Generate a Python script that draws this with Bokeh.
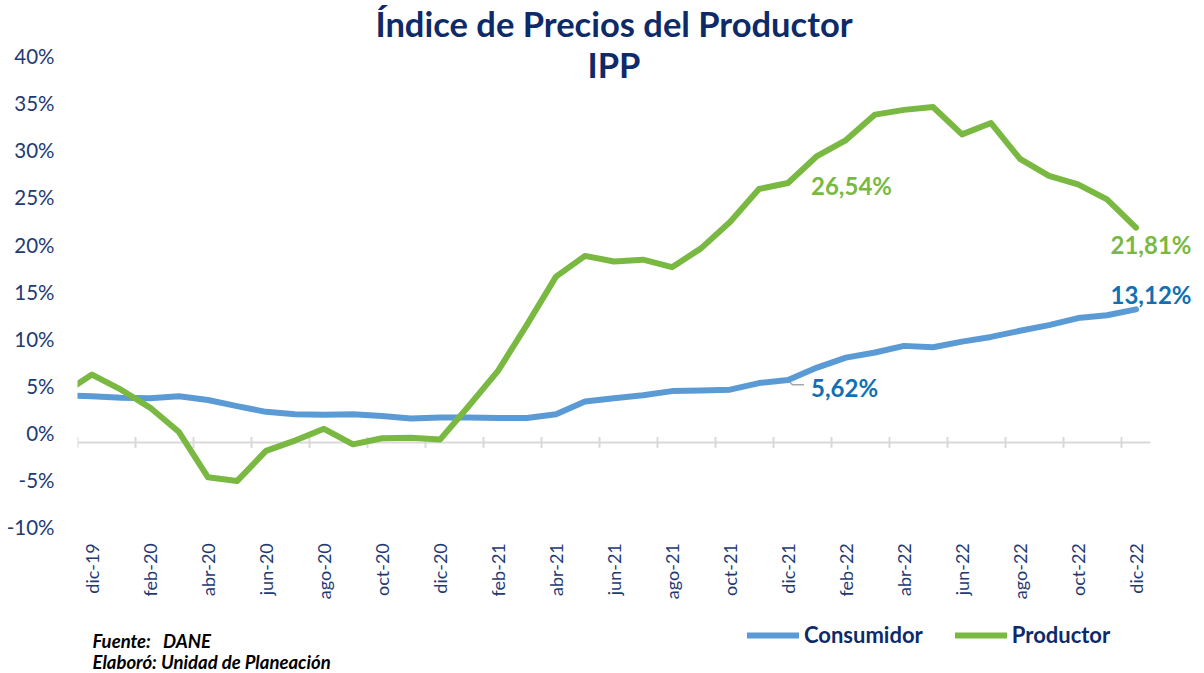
import math
from bokeh.plotting import figure
from bokeh.models import Range1d, FixedTicker, Label, Legend, LegendItem
from bokeh.embed import file_html
from bokeh.resources import INLINE

# ---------------- data ----------------
months = ["nov-19", "dic-19",
          "ene-20", "feb-20", "mar-20", "abr-20", "may-20", "jun-20",
          "jul-20", "ago-20", "sep-20", "oct-20", "nov-20", "dic-20",
          "ene-21", "feb-21", "mar-21", "abr-21", "may-21", "jun-21",
          "jul-21", "ago-21", "sep-21", "oct-21", "nov-21", "dic-21",
          "ene-22", "feb-22", "mar-22", "abr-22", "may-22", "jun-22",
          "jul-22", "ago-22", "sep-22", "oct-22", "nov-22", "dic-22"]

consumidor = [4.0, 3.9,
              3.75, 3.7, 3.9, 3.5, 2.85, 2.25,
              2.0, 1.95, 2.0, 1.8, 1.55, 1.65,
              1.65, 1.6, 1.6, 2.0, 3.35, 3.7,
              4.0, 4.45, 4.5, 4.6, 5.3, 5.62,
              6.95, 8.0, 8.55, 9.25, 9.1, 9.7,
              10.2, 10.85, 11.45, 12.2, 12.5, 13.12]

productor = [4.2, 6.2,
             4.6, 2.7, 0.1, -4.7, -5.1, -1.9,
             -0.8, 0.45, -1.2, -0.55, -0.5, -0.7,
             2.9, 6.6, 11.5, 16.6, 18.8, 18.2,
             18.4, 17.6, 19.6, 22.4, 25.9, 26.54,
             29.4, 31.1, 33.8, 34.3, 34.6, 31.7,
             32.9, 29.1, 27.3, 26.4, 24.8, 21.81]

y_ticks = [-10, -5, 0, 5, 10, 15, 20, 25, 30, 35, 40]
y_tick_labels = ["-10%", "-5%", "0%", "5%", "10%", "15%", "20%", "25%", "30%", "35%", "40%"]

title_1 = "Índice de Precios del Productor"
title_2 = "IPP"
source_1 = "Fuente:\u00a0\u00a0 DANE"
source_2 = "Elaboró: Unidad de Planeación"

# ---------------- styles ----------------
BLUE = "#5B9BD5"
GREEN = "#7AB941"
BLUE_TXT = "#1170B3"
NAVY = "#0E2A68"
NAVY_AX = "#1F3A73"
GRAY = "#D9D9D9"
FONT = "Lato"

x = list(range(-1, len(months) - 1))          # dic-19 -> 0
x_lo, x_hi = -0.5, len(months) - 1.5          # category axis extent
label_ticks = list(range(0, len(months) - 1, 2))
label_map = {t: months[t + 1] for t in label_ticks}

p = figure(width=1196, height=672, output_backend="svg", toolbar_location=None,
           x_range=Range1d(x_lo, 38.086), y_range=Range1d(-25.42, 45.91),
           min_border_left=77, min_border_right=0, min_border_top=0,
           min_border_bottom=0)
p.outline_line_color = None
p.xgrid.visible = False
p.ygrid.visible = False
p.background_fill_color = "white"

# y axis
ya = p.yaxis[0]
ya.ticker = FixedTicker(ticks=y_ticks)
ya.major_label_overrides = {t: l for t, l in zip(y_ticks, y_tick_labels)}
ya.axis_line_color = None
ya.major_tick_line_color = None
ya.minor_tick_line_color = None
ya.major_tick_out = 0
ya.major_tick_in = 0
ya.major_label_standoff = 23
ya.major_label_text_font = FONT
ya.major_label_text_font_size = "20.5px"
ya.major_label_text_color = NAVY_AX

# x axis labels, placed at the bottom of the value scale
xa = p.xaxis[0]
xa.fixed_location = y_ticks[0]
xa.ticker = FixedTicker(ticks=label_ticks)
xa.major_label_overrides = label_map
xa.major_label_orientation = math.pi / 2
xa.axis_line_color = None
xa.major_tick_line_color = None
xa.minor_tick_line_color = None
xa.major_tick_out = 0
xa.major_tick_in = 0
xa.major_label_standoff = 16
xa.major_label_text_font = FONT
xa.major_label_text_font_size = "18px"
xa.major_label_text_color = NAVY_AX

# category axis line (crosses slightly below zero) with its tick marks
axis_y = -1.0
p.segment(x0=[x_lo], y0=[axis_y], x1=[x_hi], y1=[axis_y], line_color=GRAY, line_width=2)
bounds = [t - 0.5 for t in label_ticks]
p.segment(x0=bounds, y0=[axis_y - 0.58] * len(bounds), x1=bounds,
          y1=[axis_y + 0.58] * len(bounds), line_color=GRAY, line_width=2)

# leader line for the 5,62% label
i21 = months.index("dic-21")
xi = x[i21]
p.line([xi, xi + 0.15, xi + 0.55], [consumidor[i21], consumidor[i21] - 0.5, consumidor[i21] - 0.5],
       line_color="#A6A6A6", line_width=1.5)

r_c = p.line(x, consumidor, line_color=BLUE, line_width=6, line_cap="round", line_join="round")
r_p = p.line(x, productor, line_color=GREEN, line_width=6, line_cap="round", line_join="round")


def fmt(v):
    return f"{v:.2f}%".replace(".", ",")


i22 = months.index("dic-22")
lab_kw = dict(text_font=FONT, text_font_style="bold", text_font_size="24px",
              text_baseline="middle")
p.add_layout(Label(x=x[i21], y=productor[i21], text=fmt(productor[i21]), x_offset=23,
                   y_offset=-3, text_align="left", text_color=GREEN, **lab_kw))
p.add_layout(Label(x=x[i21], y=consumidor[i21], text=fmt(consumidor[i21]), x_offset=23,
                   y_offset=-7, text_align="left", text_color=BLUE_TXT, **lab_kw))
p.add_layout(Label(x=x[i22], y=productor[i22], text=fmt(productor[i22]), x_offset=15,
                   y_offset=-17, text_align="center", text_color=GREEN, **lab_kw))
p.add_layout(Label(x=x[i22], y=consumidor[i22], text=fmt(consumidor[i22]), x_offset=15,
                   y_offset=15, text_align="center", text_color=BLUE_TXT, **lab_kw))

# titles (screen units, measured from the frame's bottom-left corner)
title_kw = dict(x_units="screen", y_units="screen", text_align="center",
                text_baseline="middle", text_font=FONT, text_font_style="bold",
                text_font_size="34.5px", text_color=NAVY)
p.add_layout(Label(x=536.5, y=649, text=title_1, **title_kw))
p.add_layout(Label(x=536.5, y=608.5, text=title_2, **title_kw))

# source notes
src_kw = dict(x_units="screen", y_units="screen", text_align="left",
              text_baseline="middle", text_font=FONT, text_font_style="bold italic",
              text_font_size="18.5px", text_color="black")
p.add_layout(Label(x=15, y=32, text=source_1, **src_kw))
p.add_layout(Label(x=15, y=11, text=source_2, **src_kw))

# legend
legend = Legend(items=[LegendItem(label="Consumidor", renderers=[r_c]),
                       LegendItem(label="Productor", renderers=[r_p])],
                location=(670, 24), orientation="horizontal",
                glyph_width=52, glyph_height=22, label_height=22, label_standoff=5,
                spacing=32, padding=0, margin=0,
                label_text_font=FONT, label_text_font_style="bold",
                label_text_font_size="22px", label_text_color=NAVY,
                background_fill_alpha=0, border_line_color=None)
p.add_layout(legend, "center")

open("out.html", "w").write(file_html(p, INLINE))
